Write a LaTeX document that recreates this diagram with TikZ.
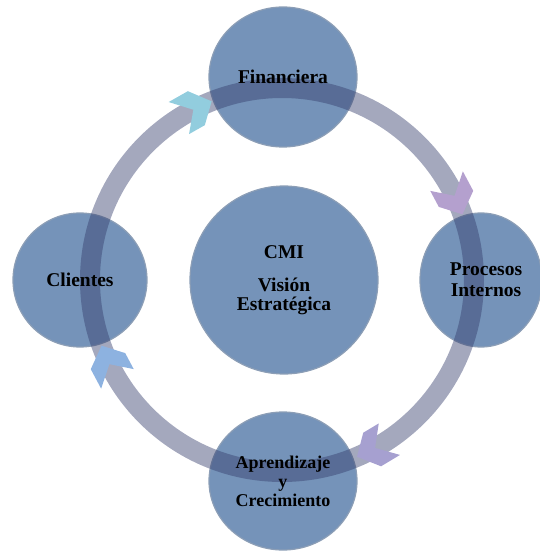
\documentclass[tikz,border=0pt]{standalone}
\usepackage{fontspec}
\setmainfont{Liberation Serif}
\usetikzlibrary{shapes.geometric}

\definecolor{bubble}{RGB}{117,147,185}
\definecolor{bubbleline}{RGB}{140,158,182}
\definecolor{ringband}{RGB}{53,62,109}
\definecolor{headcyan}{RGB}{146,205,222}
\definecolor{headlilac}{RGB}{180,160,206}
\definecolor{headviolet}{RGB}{166,160,208}
\definecolor{headblue}{RGB}{141,178,224}

\tikzset{
  bubble/.style={ellipse, fill=bubble, draw=bubbleline, line width=1.2pt, inner sep=0pt},
  tag/.style={font=\bfseries\fontsize{19.5}{21}\selectfont, align=center, inner sep=0pt},
  band/.style={draw=ringband, draw opacity=0.45, line width=20pt}
}

% chevron on the ring, #1 = angle of the tip, #2 = colour
\newcommand\ringhead[2]{%
  \fill[#2] (#1:192) -- ({#1+5}:211) -- ({#1+11}:211) -- ({#1+6}:192)
    -- ({#1+11}:173) -- ({#1+5}:173) -- cycle;}

\begin{document}
\begin{tikzpicture}[x=1pt, y=1pt]
\useasboundingbox (-282,-274) rectangle (258,280);

\coordinate (ring) at (0,0);

% the five bubbles
\node[bubble, minimum width=188, minimum height=188] (cmi) at (2,0) {};
\node[bubble, minimum width=148, minimum height=140] (fin) at (1,203) {};
\node[bubble, minimum width=122, minimum height=134] (proc) at (199,0) {};
\node[bubble, minimum width=148, minimum height=138] (apr) at (1,-201) {};
\node[bubble, minimum width=134, minimum height=134] (cli) at (-202,0) {};

% ring through the outer bubbles
\draw[band] (ring) circle[radius=192];

% heads, clockwise
\ringhead{111.5}{headcyan}
\ringhead{20}{headlilac}
\ringhead{-67}{headviolet}
\ringhead{200}{headblue}

% labels
\node[tag] (cmiT) at (cmi) {CMI\\[12pt]Visión\\[-2pt]Estratégica};
\node[tag] (finT) at (fin) {Financiera};
\node[tag] (procT) at ([xshift=5pt]proc.center) {Procesos\\Internos};
\node[tag, font=\bfseries\fontsize{18}{19}\selectfont] (aprT) at (apr) {Aprendizaje\\y\\Crecimiento};
\node[tag] (cliT) at (cli) {Clientes};

\end{tikzpicture}
\end{document}
